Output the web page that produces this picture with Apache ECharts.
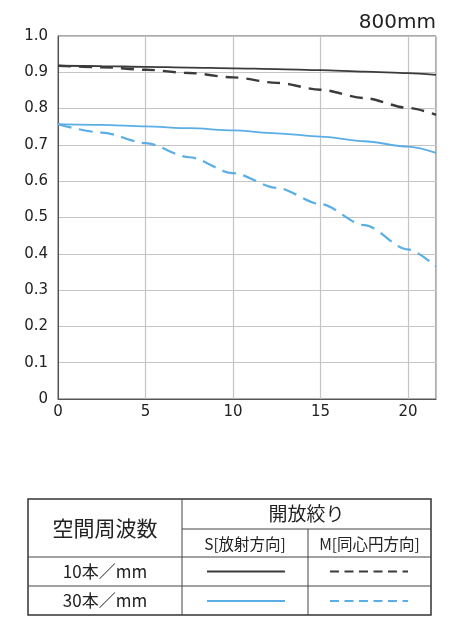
<!DOCTYPE html>
<html>
<head>
<meta charset="utf-8">
<script src="https://cdn.jsdelivr.net/npm/echarts@6/dist/echarts.min.js"></script>
<style>
html,body{margin:0;padding:0;background:#fff;}
#chart{width:458px;height:640px;}
</style>
</head>
<body>
<div id="chart"></div>
<script>
// Data
const title = '800mm';
const imageHeights = [0, 2.5, 5, 7.5, 10, 12.5, 15, 17.5, 20, 21.6];
const s10 = [0.918, 0.917, 0.915, 0.913, 0.911, 0.909, 0.906, 0.902, 0.898, 0.893];
const m10 = [0.918, 0.914, 0.907, 0.898, 0.886, 0.871, 0.852, 0.829, 0.802, 0.783];
const s30 = [0.757, 0.755, 0.751, 0.746, 0.740, 0.732, 0.723, 0.710, 0.695, 0.678];
const m30 = [0.757, 0.734, 0.705, 0.666, 0.622, 0.582, 0.537, 0.479, 0.412, 0.365];
const xTicks = [0, 5, 10, 15, 20];
const yTicks = ['0', '0.1', '0.2', '0.3', '0.4', '0.5', '0.6', '0.7', '0.8', '0.9', '1.0'];
const tableHeader = '空間周波数';
const apertureHeader = '開放絞り';
const colS = 'S[放射方向]';
const colM = 'M[同心円方向]';
const rowLabels = ['10本／mm', '30本／mm'];

const BLACK = '#3b3b3b';
const BLUE = '#5aaee6';
const pair = (ys) => imageHeights.map((x, i) => [x, ys[i]]);

const chart = echarts.init(document.getElementById('chart'));
const numFont = '"DejaVu Sans"';
const cjk = '"Noto Sans CJK JP"';

function lineSeries(name, ys, color, dash, width) {
  return {
    name, type: 'line', data: pair(ys), smooth: 0.3, smoothMonotone: 'x',
    symbol: 'none', silent: true,
    lineStyle: { color, width, type: dash || 'solid', cap: 'butt' }
  };
}

// table geometry (layout only)
const T = { l: 28, r: 431, t: 499, b: 615, c1: 182, c2: 308, h1: 529, h2: 557, h3: 586 };
const thin = { stroke: '#444', lineWidth: 1 };
const graphics = [
  { type: 'rect', shape: { x: T.l, y: T.t, width: T.r - T.l, height: T.b - T.t }, style: { fill: 'none', stroke: '#333', lineWidth: 1.5 } },
  { type: 'line', shape: { x1: T.c1, y1: T.t, x2: T.c1, y2: T.b }, style: thin },
  { type: 'line', shape: { x1: T.c2, y1: T.h1, x2: T.c2, y2: T.b }, style: thin },
  { type: 'line', shape: { x1: T.c1, y1: T.h1, x2: T.r, y2: T.h1 }, style: thin },
  { type: 'line', shape: { x1: T.l, y1: T.h2, x2: T.r, y2: T.h2 }, style: thin },
  { type: 'line', shape: { x1: T.l, y1: T.h3, x2: T.r, y2: T.h3 }, style: thin },
  { type: 'text', x: (T.l + T.c1) / 2, y: (T.t + T.h2) / 2, style: { text: tableHeader, font: '21px ' + cjk, fill: '#222', align: 'center', verticalAlign: 'middle' } },
  { type: 'text', x: (T.c1 + T.r) / 2, y: (T.t + T.h1) / 2, style: { text: apertureHeader, font: '19px ' + cjk, fill: '#222', align: 'center', verticalAlign: 'middle' } },
  { type: 'text', x: (T.c1 + T.c2) / 2, y: (T.h1 + T.h2) / 2 + 1, style: { text: colS, font: '15.5px ' + cjk, fill: '#222', align: 'center', verticalAlign: 'middle' } },
  { type: 'text', x: (T.c2 + T.r) / 2, y: (T.h1 + T.h2) / 2 + 1, style: { text: colM, font: '15.5px ' + cjk, fill: '#222', align: 'center', verticalAlign: 'middle' } },
  { type: 'text', x: (T.l + T.c1) / 2, y: (T.h2 + T.h3) / 2, style: { text: rowLabels[0], font: '17px ' + cjk, fill: '#222', align: 'center', verticalAlign: 'middle' } },
  { type: 'text', x: (T.l + T.c1) / 2, y: (T.h3 + T.b) / 2, style: { text: rowLabels[1], font: '17px ' + cjk, fill: '#222', align: 'center', verticalAlign: 'middle' } },
  { type: 'line', shape: { x1: 207, y1: 571.5, x2: 285, y2: 571.5 }, style: { stroke: BLACK, lineWidth: 1.8 } },
  { type: 'line', shape: { x1: 330, y1: 571.5, x2: 408, y2: 571.5 }, style: { stroke: BLACK, lineWidth: 2, lineDash: [9, 5.5] } },
  { type: 'line', shape: { x1: 207, y1: 601, x2: 285, y2: 601 }, style: { stroke: BLUE, lineWidth: 1.8 } },
  { type: 'line', shape: { x1: 330, y1: 601, x2: 408, y2: 601 }, style: { stroke: BLUE, lineWidth: 2, lineDash: [9, 5.5] } }
];

chart.setOption({
  animation: false,
  backgroundColor: '#fff',
  title: { text: title, right: 17, top: 8, textStyle: { fontFamily: numFont, fontSize: 20, fontWeight: 'normal', color: '#222' } },
  grid: { left: 58, right: 22, top: 36, bottom: 241, show: true, borderColor: '#555', borderWidth: 1 },
  xAxis: {
    type: 'value', min: 0, max: 21.6, interval: 5,
    axisLine: { show: true, lineStyle: { color: '#555', width: 1 } },
    axisTick: { show: false },
    axisLabel: { showMaxLabel: false, color: '#222', fontFamily: numFont, fontSize: 15, margin: 6,
      formatter: (v) => xTicks.includes(v) ? String(v) : '' },
    splitLine: { show: true, lineStyle: { color: '#c4c4c4', width: 1.2 } }
  },
  yAxis: {
    type: 'value', min: 0, max: 1, interval: 0.1,
    axisLine: { show: true, lineStyle: { color: '#555', width: 1 } },
    axisTick: { show: false },
    axisLabel: { color: '#222', fontFamily: numFont, fontSize: 15, margin: 10,
      formatter: (v) => yTicks[Math.round(v * 10)] },
    splitLine: { show: true, lineStyle: { color: '#c4c4c4', width: 1.2 } }
  },
  series: [
    lineSeries('S10', s10, BLACK, null, 1.8),
    lineSeries('M10', m10, BLACK, [13, 8], 2.4),
    lineSeries('S30', s30, BLUE, null, 1.8),
    lineSeries('M30', m30, BLUE, [14, 7.5], 2.2)
  ],
  graphic: graphics
});
</script>
</body>
</html>
